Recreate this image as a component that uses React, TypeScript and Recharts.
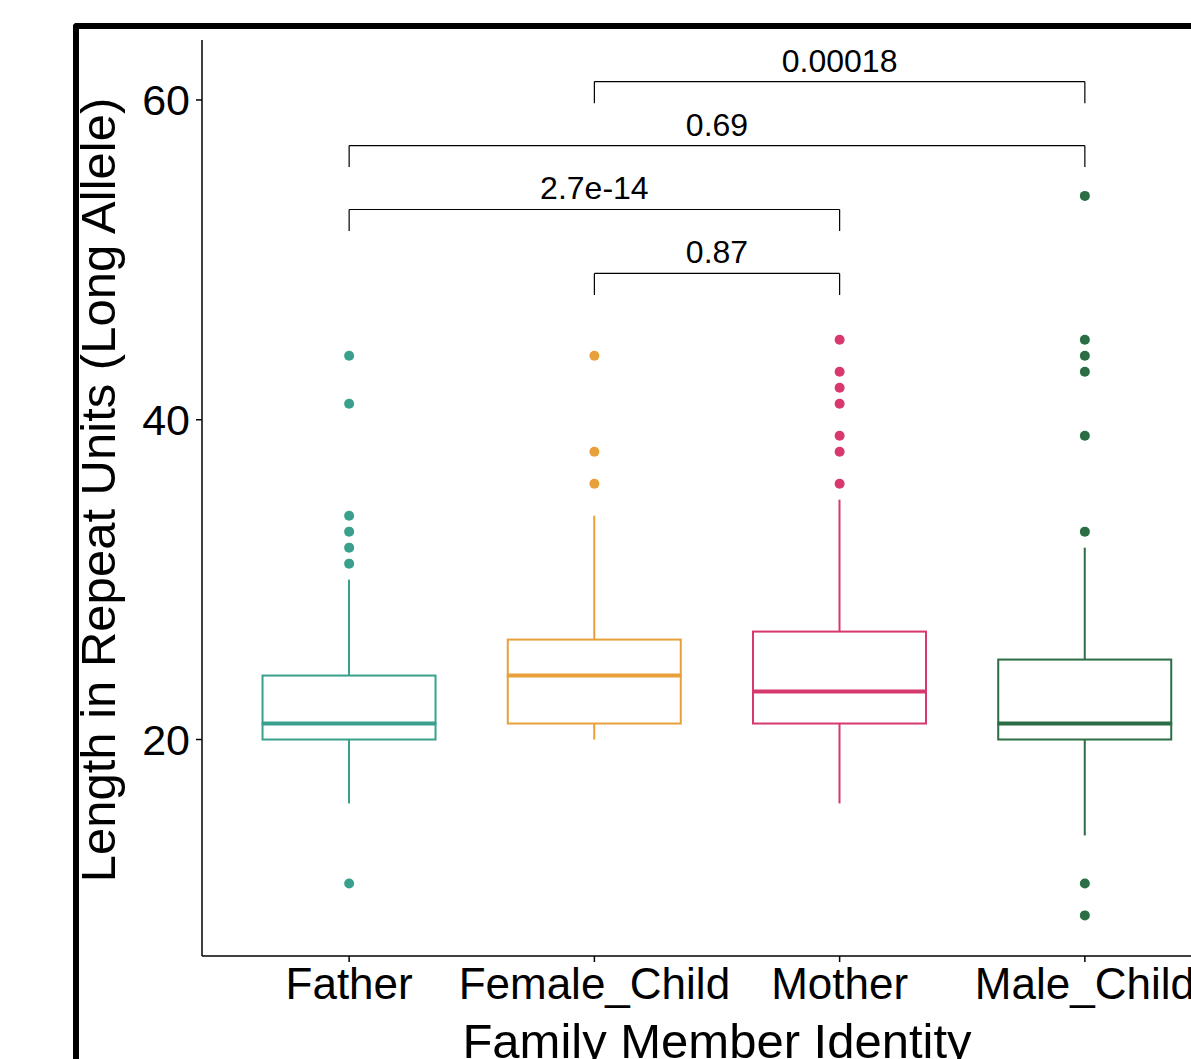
import React from "react";
import { ComposedChart, Bar, Scatter, XAxis, YAxis, ReferenceLine, Label } from "recharts";

// box statistics per family member
const categories = ["Father", "Female_Child", "Mother", "Male_Child"];
const lowerWhisker = [16, 20, 16, 14];
const q1 = [20, 21, 21, 20];
const median = [21, 24, 23, 21];
const q3 = [24, 26.25, 26.75, 25];
const upperWhisker = [30, 34, 35, 32];

// outlying points
const fatherOutliers = [44, 41, 34, 33, 32, 31, 11];
const femaleChildOutliers = [44, 38, 36];
const motherOutliers = [45, 43, 42, 41, 39, 38, 36];
const maleChildOutliers = [54, 45, 44, 43, 39, 33, 11, 9];

// pairwise comparisons
const bracketFrom = ["Female_Child", "Father", "Father", "Female_Child"];
const bracketTo = ["Male_Child", "Male_Child", "Mother", "Mother"];
const bracketY = [61.15, 57.15, 53.15, 49.15];
const pValues = ["0.00018", "0.69", "2.7e-14", "0.87"];

const yTicks = [20, 40, 60];

const colors = ["#38a08c", "#e7a03a", "#d6386f", "#2b6e45"];
const FONT = "'Liberation Sans', Arial, Helvetica, sans-serif";
const TIP = 1.35;

const boxData = categories.map((name, i) => ({
  name,
  pos: i + 1,
  base: lowerWhisker[i],
  lowW: q1[i] - lowerWhisker[i],
  lowBox: median[i] - q1[i],
  highBox: q3[i] - median[i],
  highW: upperWhisker[i] - q3[i],
}));

const outlierSets = [fatherOutliers, femaleChildOutliers, motherOutliers, maleChildOutliers].map((vals, i) =>
  vals.map((v) => ({ pos: i + 1, value: v }))
);

const Empty = () => <g />;

const Whisker = (p: any) => {
  const cx = p.x + p.width / 2;
  return <line x1={cx} x2={cx} y1={p.y} y2={p.y + p.height} stroke={colors[p.index]} strokeWidth={2} />;
};

const LowerBox = (p: any) => (
  <rect x={p.x} y={p.y} width={p.width} height={p.height} fill="#fff" stroke={colors[p.index]} strokeWidth={2} />
);

const UpperBox = (p: any) => (
  <g>
    <rect x={p.x} y={p.y} width={p.width} height={p.height} fill="#fff" stroke={colors[p.index]} strokeWidth={2} />
    <line
      x1={p.x}
      x2={p.x + p.width}
      y1={p.y + p.height}
      y2={p.y + p.height}
      stroke={colors[p.index]}
      strokeWidth={4}
    />
  </g>
);

const XTitle = (props: any) => {
  const vb = props.viewBox
  return (
    <text x={vb.x + vb.width / 2} y={vb.y + 102} textAnchor="middle" fontSize={49} fontFamily={FONT} fill="#000">
      Family Member Identity
    </text>
  );
};

const YTitle = (props: any) => {
  const vb = props.viewBox
  const x = vb.x + 40
  const y = vb.y + vb.height / 2 - 8
  return (
    <text x={x} y={y} transform={`rotate(-90 ${x} ${y})`} textAnchor="middle" fontSize={49} fontFamily={FONT} fill="#000">
      Length in Repeat Units (Long Allele)
    </text>
  );
};

export default function App() {
  return (
    <div style={{ position: "absolute", left: 0, top: 0, width: 1191, height: 1059, overflow: "hidden", background: "#fff" }}>
      <div
        style={{
          position: "absolute",
          left: 73,
          top: 23,
          width: 1200,
          height: 1100,
          borderLeft: "6px solid #000",
          borderTop: "6px solid #000",
          borderTopLeftRadius: 4,
        }}
      />
      <div style={{ position: "absolute", left: 0, top: 0 }}>
        <ComposedChart width={1260} height={1059} data={boxData} margin={{ top: 40, right: 28, bottom: 0, left: 75 }}>
          <XAxis
            type="number"
            dataKey="pos"
            domain={[0.4, 4.6]}
            allowDataOverflow
            ticks={[1, 2, 3, 4]}
            interval={0}
            tickFormatter={(v) => categories[v - 1]}
            tick={{ fontSize: 44, fill: "#000", fontFamily: FONT }}
            tickSize={6}
            tickMargin={6}
            axisLine={{ stroke: "#000", strokeWidth: 1.5 }}
            tickLine={{ stroke: "#000", strokeWidth: 1.5 }}
            height={103}
          >
            <Label content={XTitle} />
          </XAxis>
          <YAxis
            type="number"
            domain={[6.46, 63.75]}
            allowDataOverflow
            ticks={yTicks}
            interval={0}
            width={127}
            tick={{ fontSize: 43, fill: "#000", fontFamily: FONT }}
            tickSize={6}
            tickMargin={6}
            axisLine={{ stroke: "#000", strokeWidth: 1.5 }}
            tickLine={{ stroke: "#000", strokeWidth: 1.5 }}
          >
            <Label content={YTitle} />
          </YAxis>

          <Bar dataKey="base" stackId="box" barSize={173} shape={Empty} isAnimationActive={false} />
          <Bar dataKey="lowW" stackId="box" barSize={173} shape={Whisker} isAnimationActive={false} />
          <Bar dataKey="lowBox" stackId="box" barSize={173} shape={LowerBox} isAnimationActive={false} />
          <Bar dataKey="highBox" stackId="box" barSize={173} shape={UpperBox} isAnimationActive={false} />
          <Bar dataKey="highW" stackId="box" barSize={173} shape={Whisker} isAnimationActive={false} />

          {outlierSets.map((d, i) => (
            <Scatter
              key={categories[i]}
              data={d}
              dataKey="value"
              fill={colors[i]}
              shape={(p: any) => <circle cx={p.cx} cy={p.cy} r={5} fill={colors[i]} />}
              isAnimationActive={false}
            />
          ))}

          {bracketY.map((y, i) => {
            const a = categories.indexOf(bracketFrom[i]) + 1;
            const b = categories.indexOf(bracketTo[i]) + 1;
            return [
              <ReferenceLine
                key={`h${i}`}
                segment={[{ x: a, y }, { x: b, y }]}
                stroke="#000"
                strokeWidth={1.2}
                ifOverflow="visible"
                label={{ value: pValues[i], position: "top", offset: 10, fontSize: 32, fill: "#000", fontFamily: FONT }}
              />,
              <ReferenceLine
                key={`l${i}`}
                segment={[{ x: a, y }, { x: a, y: y - TIP }]}
                stroke="#000"
                strokeWidth={1.2}
                ifOverflow="visible"
              />,
              <ReferenceLine
                key={`r${i}`}
                segment={[{ x: b, y }, { x: b, y: y - TIP }]}
                stroke="#000"
                strokeWidth={1.2}
                ifOverflow="visible"
              />,
            ];
          })}
        </ComposedChart>
      </div>
    </div>
  );
}
